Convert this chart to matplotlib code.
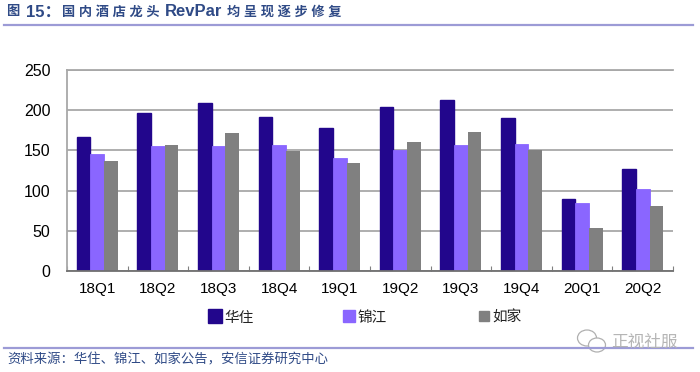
import matplotlib
matplotlib.use("Agg")
import matplotlib.pyplot as plt
from matplotlib.lines import Line2D
from matplotlib.patches import Ellipse
import numpy as np

plt.rcParams['font.family'] = ['Liberation Sans', 'Noto Sans CJK SC', 'DejaVu Sans']

quarters = ["18Q1", "18Q2", "18Q3", "18Q4", "19Q1", "19Q2", "19Q3", "19Q4", "20Q1", "20Q2"]
huazhu = [167, 196, 209, 191, 178, 204, 213, 190, 89, 127]
jinjiang = [145, 155, 156, 157, 140, 150, 157, 158, 84, 102]
rujia = [137, 157, 172, 149, 134, 160, 173, 150, 54, 81]
series_names = ["华住", "锦江", "如家"]
yticks = [0, 50, 100, 150, 200, 250]

title_blue = "#2f4a86"
rule_color = "#9c9bd6"
colors = ["#22068c", "#8a66ff", "#808080"]
edge_widths = [1.0, 0.6, 0]

W, H = 700, 372
fig = plt.figure(figsize=(W / 100, H / 100), dpi=100)
ax = fig.add_axes([67 / W, 1 - 271 / H, 606 / W, 201 / H])

x = np.arange(len(quarters))
w = 0.225
for i, (vals, c) in enumerate(zip([huazhu, jinjiang, rujia], colors)):
    ax.bar(x + (i - 1) * w, vals, w, color=c, edgecolor=c, linewidth=edge_widths[i],
           label=series_names[i], zorder=3)

ax.set_xlim(-0.5, 9.5)
ax.set_ylim(0, 250)
ax.set_yticks(yticks)
ax.set_xticks(x)
ax.set_xticklabels(quarters)
ax.set_xticks(np.arange(-0.5, 10), minor=True)
ax.grid(axis="y", color="#a8a8a8", linewidth=1.3, zorder=0)
ax.set_axisbelow(True)
ax.tick_params(axis="y", labelsize=11.5, length=0, pad=12, colors="black")
ax.tick_params(axis="x", labelsize=11, length=0, pad=8, colors="black")
ax.tick_params(axis="x", which="minor", direction="in", length=3.5, width=0.8, color="#808080")
ax.spines["right"].set_visible(False)
for s in ["left", "top", "bottom"]:
    ax.spines[s].set_color("#a8a8a8")
    ax.spines[s].set_linewidth(1.3)
ax.spines["bottom"].set_color("#707070")
ax.spines["bottom"].set_zorder(4)

# legend placed by hand, the markers have different sizes in the original
marker_sizes = [10, 8, 7.5]
marker_x = [215, 349, 484]
text_x = [224, 358, 492]
for mx, tx, ms, c, name in zip(marker_x, text_x, marker_sizes, colors, series_names):
    fig.add_artist(Line2D([mx / W], [1 - 316 / H], marker="s", ms=ms, color=c,
                          ls="none", transform=fig.transFigure))
    fig.text(tx / W, 1 - 318 / H, name, fontsize=10.5, va="center", ha="left",
             color="#222222")

# title is spaced out in the original, so it goes in pieces
title_parts = [(6, "图", 9.5), (26, "15：", 12), (62, "国 内 酒 店 龙 头", 9.5),
               (165, "RevPar", 12), (227, "均 呈 现 逐 步 修 复", 9.5)]
for tx, part, size in title_parts:
    fig.text(tx / W, 1 - 12 / H, part, fontsize=size, fontweight="bold", color=title_blue,
             va="center", ha="left")
fig.text(7 / W, 1 - 360 / H, "资料来源：华住、锦江、如家公告，安信证券研究中心", fontsize=9.6,
         style="italic", color=title_blue, va="center", ha="left")

for y in [24.5, 347.5]:
    fig.add_artist(Line2D([4 / W, 693 / W], [1 - y / H, 1 - y / H], color=rule_color, lw=1.6,
                          transform=fig.transFigure))

# watermark
for cx, cy, ew, eh in [(587, 338, 19, 16), (597, 345, 17, 14)]:
    fig.add_artist(Ellipse((cx / W, 1 - cy / H), ew / W, eh / H, transform=fig.transFigure,
                           fc="white", ec="#b0b0b0", lw=0.9))
fig.text(611 / W, 1 - 342 / H, "正视社服", fontsize=12, color="#b5b5b5", va="center", ha="left")

fig.savefig("out.png", dpi=100)
